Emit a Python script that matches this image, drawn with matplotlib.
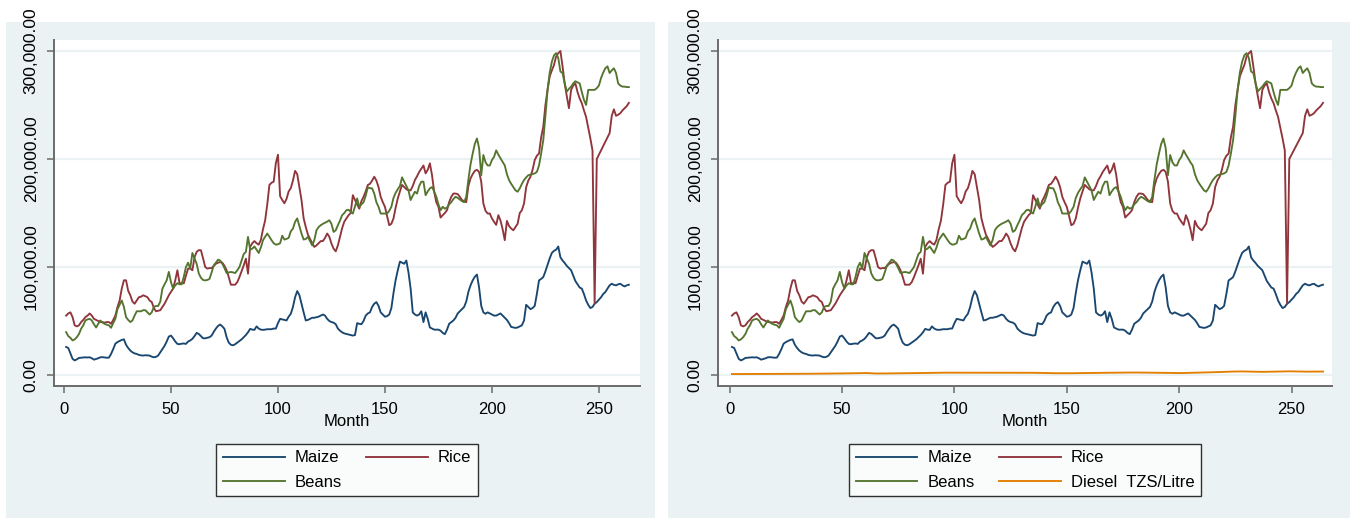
import matplotlib
matplotlib.use("Agg")
import matplotlib.pyplot as plt
from matplotlib.patches import Rectangle
from matplotlib.ticker import FuncFormatter
import numpy as np

plt.rcParams['font.family'] = ['Liberation Sans', 'DejaVu Sans']

# Monthly prices (TZS), months 1..264
maize = [
    26, 25, 20, 15, 13.5, 14.5, 15.8, 16, 16.3, 16.4, 16.2, 16.4,
    15.5, 14.2, 14.8, 15.5, 16.4, 16.5, 16.2, 16.0, 16.1, 19.5, 24, 29,
    30.5, 31.5, 32.5, 33, 28, 25, 22.6, 21, 20, 19.5, 18.6, 18.2,
    18.0, 18.3, 18.1, 18, 17, 16.4, 16.8, 18, 21, 24, 27, 31,
    35.6, 36.5, 34, 31, 28.8, 28.5, 29, 29.2, 28.8, 31, 32, 33.5,
    36, 39, 38, 36, 34, 34, 34.5, 35, 36.5, 40, 43, 45.5,
    46.7, 45, 42.7, 35, 30, 28, 27.5, 28.5, 30, 31.5, 33, 35,
    37, 39.5, 42.7, 42, 41.8, 45, 43, 42, 41.8, 42, 42.4, 42.4,
    42.4, 43, 43, 48, 52, 51.5, 51, 50.5, 54, 56.7, 63, 72,
    77.7, 74, 66, 58, 50.5, 51, 52, 53, 53, 53.5, 54, 55,
    56, 55, 52, 50, 49, 48.5, 47, 43, 41, 39.5, 38.5, 38,
    37.5, 37, 36.5, 37, 48, 47.4, 47, 50, 55, 57, 58, 63,
    66, 67.5, 64, 58, 56, 54, 54.5, 56, 62, 76, 88, 97,
    105, 104, 103, 106, 95, 80, 58, 56, 55, 56, 59, 49,
    58, 52, 44, 43, 42, 42, 42, 41, 39, 37.8, 42, 47.4,
    49, 50.5, 53, 57, 59, 61, 63, 68, 77, 83, 87.6, 91,
    93, 81, 64, 58, 56.7, 58, 57, 56, 55, 55, 56, 57,
    55, 53, 51, 48, 44.5, 44, 43.6, 44, 45, 46, 50.5, 65,
    63, 61, 62, 64, 75, 87.6, 89, 90.7, 96, 102, 108, 113,
    115, 116, 119, 109, 106, 103.7, 101, 99, 97, 92, 87, 84,
    81, 80, 75, 69, 65, 62, 63, 66, 67.5, 69.7, 72, 75,
    76.8, 80, 83, 84.5, 83.5, 83, 84, 84.5, 83, 82, 83, 83.6,
]

rice = [
    55, 57, 58, 53.6, 46, 45, 46, 49, 51, 53.6, 55, 57,
    55, 52, 51, 50, 49, 49, 48.5, 49, 49, 47.4, 51, 55,
    63, 69, 80, 87.7, 87.7, 78, 73.8, 68, 66, 69, 72, 72.5,
    73.8, 73, 72, 69, 67.6, 62, 59, 59.5, 60, 63, 66, 70,
    73.8, 77, 80, 87.7, 97, 85, 85, 85, 92, 98.6, 98.6, 97,
    109, 114, 115.6, 115.5, 108, 100, 98.5, 99, 99, 101, 103, 104,
    104.5, 104, 101, 97, 90.7, 83.6, 83.6, 83.6, 86, 90.7, 96, 101.5,
    107.7, 93.8, 118.6, 122, 124, 122, 120.7, 125, 135, 143, 158, 176,
    178, 179, 196, 204, 165.6, 162, 159, 163, 170, 173, 180, 189,
    186, 174, 162, 145, 137, 130, 126, 122, 118.6, 120, 122, 124,
    124, 127, 131, 128, 121.7, 117, 114.5, 120, 127.9, 136, 142, 145,
    148, 150, 166.5, 162, 158, 154, 161, 165, 170, 176, 177, 180,
    183.6, 180, 174, 165, 160, 155.7, 147, 138.7, 140, 145, 155, 163.5,
    170, 176, 174, 172, 171, 171, 175, 180.5, 184, 188, 191, 194,
    186.7, 190, 196, 185, 169.7, 160, 155.7, 145.8, 148, 150, 152.6, 160,
    165, 168, 168, 167.5, 165, 162, 161, 160, 175, 182, 186, 189,
    190, 188, 179, 158.8, 152, 149.5, 149.5, 145, 141.8, 139, 148, 143,
    135, 124.8, 142.7, 138, 135.6, 134, 137, 140, 150, 152.6, 158.8, 174,
    180, 183.6, 190, 199, 203, 205, 220, 230, 250, 264, 276.5, 282,
    287, 295, 298, 300, 285.8, 270, 258, 247, 264, 268, 270, 262,
    256, 251.7, 245, 239, 229, 219, 208, 66, 200, 204, 208, 212,
    216, 220, 224, 240, 246, 240, 241, 242.4, 245, 247, 249, 252,
]

beans = [
    39.7, 36, 34.4, 32, 33, 35, 38, 42.8, 46, 50.5, 51.5, 52,
    50.5, 47, 44, 47.4, 50.5, 48.5, 47.4, 46.5, 46, 43.7, 48, 52,
    61, 65, 69, 63, 53.6, 51, 49, 50.5, 55, 59, 59, 59,
    60, 60, 58, 56, 58, 63, 63.9, 63.9, 68, 80, 84, 87.7,
    95.5, 86, 80, 83, 85, 84, 84, 91, 100, 104, 98.6, 113,
    108, 103, 94, 90, 88, 87.6, 88, 89, 95, 101.5, 104, 106.8,
    106, 103, 99, 94.4, 95, 95.4, 95, 94.4, 97, 100, 106, 112,
    114, 127.9, 116, 117, 119, 116, 113, 118, 124.8, 128, 131, 128,
    124.8, 122, 120.7, 121, 122, 129, 125.4, 126, 127, 133, 135.6, 141.8,
    145, 138, 131, 125.4, 126, 127.9, 124, 120, 125, 134, 137, 138.7,
    140, 141, 142, 143.3, 140, 132.5, 134, 138.7, 143, 148, 150, 152.6,
    153, 151, 149.5, 156, 163.5, 155.7, 158, 160, 166, 173.7, 173, 172.8,
    168, 160, 155.7, 149.5, 149.5, 149.5, 149.5, 152, 155.7, 164, 168.7, 172,
    175, 183, 179, 175, 171, 162, 166, 169.7, 168, 175, 179, 179,
    166.5, 170, 172.8, 174, 170, 165, 158, 152.6, 155.7, 154, 155, 158,
    160, 163, 165, 164, 162.5, 161, 160, 165, 181, 195, 205, 214,
    219, 210, 185, 203.7, 197, 194, 194, 199, 202, 208, 204, 200.6,
    197, 194, 186, 180.5, 177, 174, 171, 169.7, 172.8, 177, 180.5, 183,
    185, 185.5, 186, 186.7, 188, 194, 205, 217.6, 240, 264, 280, 290,
    296, 298, 293.5, 281, 279.6, 270, 262.5, 265, 267, 270, 272, 271,
    270, 262, 254.8, 250, 264, 264, 264, 264, 265.6, 268, 275, 280,
    284, 285.8, 279.6, 282, 284, 279.6, 270, 268, 267, 267, 266.6, 266.6,
]

diesel = [
    880, 885, 890, 895, 900, 905, 910, 915, 920, 925, 930, 935,
    940, 945, 950, 955, 960, 965, 970, 975, 980, 990, 1000, 1010,
    1020, 1030, 1040, 1050, 1060, 1075, 1090, 1105, 1120, 1135, 1150, 1165,
    1180, 1200, 1220, 1240, 1260, 1280, 1300, 1320, 1340, 1360, 1380, 1400,
    1420, 1450, 1480, 1520, 1560, 1600, 1650, 1700, 1750, 1800, 1850, 1880,
    1820, 1700, 1550, 1450, 1400, 1380, 1390, 1400, 1420, 1440, 1460, 1480,
    1500, 1520, 1540, 1560, 1580, 1600, 1620, 1640, 1660, 1680, 1700, 1720,
    1750, 1800, 1850, 1900, 1950, 2000, 2050, 2100, 2120, 2140, 2150, 2150,
    2140, 2130, 2120, 2110, 2100, 2100, 2110, 2120, 2130, 2140, 2150, 2160,
    2170, 2180, 2190, 2200, 2200, 2190, 2180, 2170, 2160, 2150, 2140, 2130,
    2120, 2110, 2100, 2100, 2110, 2120, 2130, 2140, 2150, 2160, 2170, 2180,
    2150, 2100, 2050, 2000, 1950, 1900, 1850, 1800, 1750, 1700, 1680, 1660,
    1650, 1640, 1630, 1620, 1610, 1600, 1620, 1640, 1660, 1680, 1700, 1720,
    1750, 1780, 1810, 1840, 1870, 1900, 1930, 1960, 1990, 2020, 2050, 2080,
    2100, 2120, 2140, 2160, 2180, 2200, 2220, 2240, 2260, 2280, 2300, 2320,
    2300, 2280, 2260, 2240, 2220, 2200, 2180, 2160, 2140, 2120, 2100, 2080,
    2060, 2040, 2000, 1950, 1900, 1850, 1800, 1780, 1800, 1850, 1900, 1950,
    2000, 2050, 2100, 2150, 2200, 2250, 2300, 2350, 2400, 2450, 2500, 2550,
    2600, 2700, 2800, 2900, 3000, 3100, 3150, 3200, 3250, 3300, 3300, 3300,
    3250, 3200, 3150, 3100, 3050, 3000, 2950, 2900, 2900, 2950, 3000, 3050,
    3100, 3150, 3200, 3250, 3300, 3350, 3400, 3450, 3400, 3350, 3300, 3250,
    3200, 3150, 3100, 3100, 3100, 3100, 3150, 3200, 3200, 3200, 3200, 3200,
]

months = np.arange(1, len(maize) + 1)
maize_tzs = np.array(maize) * 1000
rice_tzs = np.array(rice) * 1000
beans_tzs = np.array(beans) * 1000
diesel_tzs = np.array(diesel)

x_ticks = [0, 50, 100, 150, 200, 250]
y_ticks = [0, 100000, 200000, 300000]

NAVY = '#1a476f'
MAROON = '#90353b'
GREEN = '#55752f'
ORANGE = '#e37e00'
BG = '#eaf2f3'
AXIS = '#6b6b6b'

W, H = 1350, 519
fig = plt.figure(figsize=(W / 100, H / 100), dpi=100)
fig.patch.set_facecolor('white')


def fx(x):
    return x / W


def fy(y):
    return 1 - y / H


def panel(x0, x1, px_left, px_right, xlim, series, legend_cx):
    # light graph region behind each panel
    fig.add_artist(Rectangle((fx(x0), fy(518)), (x1 - x0) / W, (518 - 22) / H,
                             transform=fig.transFigure, facecolor=BG,
                             edgecolor='none', zorder=0))
    ax = fig.add_axes([fx(px_left), fy(385.5), (px_right - px_left) / W, (385.5 - 40) / H])
    ax.set_facecolor('white')
    ax.set_zorder(1)
    handles = []
    for vals, col, lab in series:
        h, = ax.plot(months, vals, color=col, lw=1.35, label=lab, zorder=3)
        handles.append(h)
    ax.set_xlim(*xlim)
    ax.set_ylim(-9722, 310185)
    ax.set_xticks(x_ticks)
    ax.set_yticks(y_ticks)
    ax.yaxis.set_major_formatter(FuncFormatter(lambda v, p: f"{v:,.2f}"))
    ax.grid(axis='y', color=BG, lw=1.6, zorder=1)
    ax.set_axisbelow(True)
    for s in ['top', 'right']:
        ax.spines[s].set_visible(False)
    for s in ['left', 'bottom']:
        ax.spines[s].set_color(AXIS)
        ax.spines[s].set_linewidth(1.4)
    ax.tick_params(axis='both', direction='out', length=5, width=1.1, color=AXIS,
                   labelcolor='black')
    ax.tick_params(axis='x', pad=7, labelsize=12)
    ax.tick_params(axis='y', pad=6, labelsize=12.5)
    for lbl in ax.get_yticklabels():
        lbl.set_rotation(90)
        lbl.set_va('center')
    fig.text(fx(legend_cx), fy(422), 'Month', ha='center', va='center', fontsize=12)
    # legend: two columns, filled row by row
    if len(handles) == 3:
        order = [handles[0], handles[2], handles[1]]
    else:
        order = [handles[0], handles[2], handles[1], handles[3]]
    leg = fig.legend(handles=order, labels=[h.get_label() for h in order],
                     loc='center', bbox_to_anchor=(fx(legend_cx), fy(470)),
                     ncol=2, fontsize=12, frameon=True, fancybox=False,
                     handlelength=3.7, handletextpad=0.6, columnspacing=1.45,
                     labelspacing=0.55, borderpad=0.4)
    leg.get_frame().set_edgecolor('black')
    leg.get_frame().set_linewidth(1.0)
    leg.get_frame().set_facecolor('white')
    return ax


panel(6, 655, 54, 640, (-4.67, 269.2),
      [(maize_tzs, NAVY, 'Maize'), (rice_tzs, MAROON, 'Rice'), (beans_tzs, GREEN, 'Beans')],
      347)
panel(668, 1350, 718, 1332, (-5.2, 268.0),
      [(maize_tzs, NAVY, 'Maize'), (rice_tzs, MAROON, 'Rice'), (beans_tzs, GREEN, 'Beans'),
       (diesel_tzs, ORANGE, 'Diesel  TZS/Litre')],
      1025)

fig.savefig('out.png', dpi=100)
